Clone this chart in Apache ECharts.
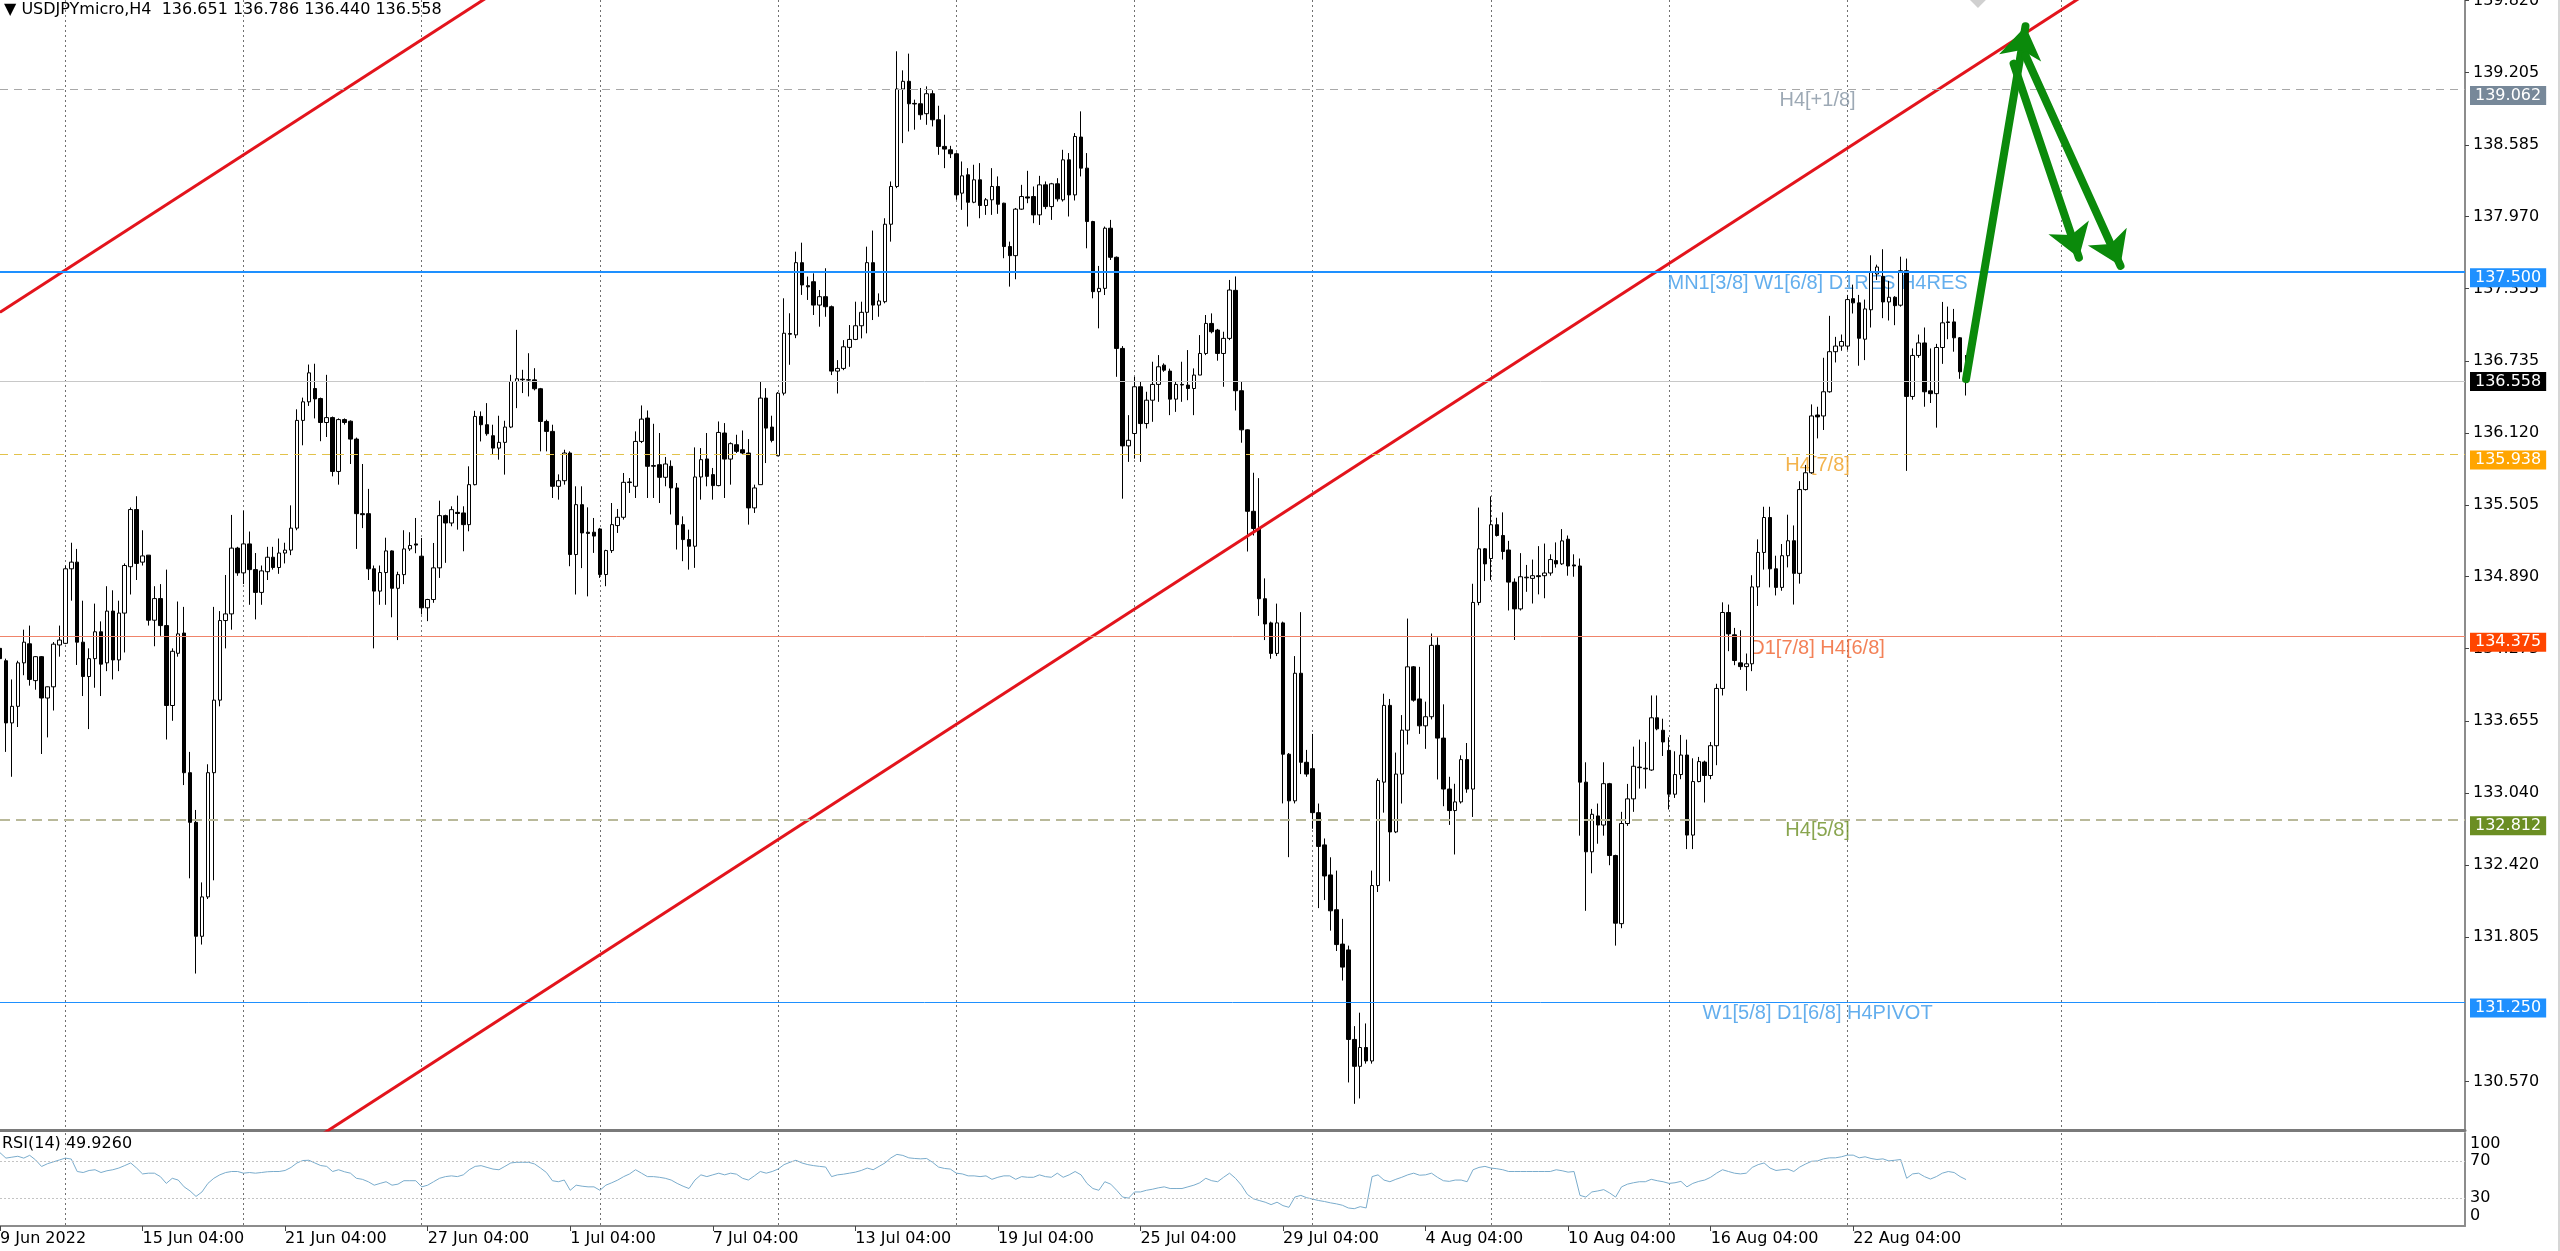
<!DOCTYPE html>
<html>
<head>
<meta charset="utf-8">
<script src="https://cdn.jsdelivr.net/npm/echarts@6/dist/echarts.min.js"></script>
<style>
html,body{margin:0;padding:0;background:#fff;overflow:hidden;}
#chart{width:2558px;height:1251px;border-right:2px solid #d6d6d6;}
</style>
</head>
<body>
<div id="chart"></div>
<script>
// ---------- DATA ----------
const opens = [
134.276,134.170,133.638,133.780,134.152,134.315,134.000,134.205,133.851,133.947,
134.305,134.319,134.957,135.014,134.329,134.035,134.188,134.418,134.152,134.595,
134.177,134.578,134.975,135.464,135.014,135.074,134.517,134.702,134.471,133.787,
134.234,134.407,133.212,132.787,131.812,132.149,133.212,133.833,134.514,134.571,
135.134,134.922,135.170,134.950,134.755,134.932,135.056,134.968,135.092,135.117,
135.305,136.227,136.386,136.500,136.414,136.209,136.251,135.790,136.234,136.220,
136.067,135.429,135.429,134.957,134.766,134.925,135.110,134.790,134.907,135.127,
135.170,135.065,134.623,134.694,134.965,135.412,135.349,135.440,135.435,135.335,
135.677,136.261,136.190,136.096,135.990,136.039,136.170,136.560,136.580,136.575,
136.574,136.498,136.218,136.133,135.663,135.711,135.948,135.079,135.506,135.270,
135.270,135.298,134.908,135.113,135.327,135.398,135.700,135.663,136.047,136.247,
135.840,135.848,135.740,135.834,135.649,135.335,135.207,135.150,135.743,135.897,
135.763,135.669,136.119,135.896,136.019,135.976,135.948,135.478,135.677,136.418,
136.170,135.925,136.460,136.970,136.959,137.577,137.380,137.414,137.214,137.286,
137.200,136.649,136.672,136.852,136.920,137.037,137.152,137.577,137.214,137.243,
137.906,138.229,139.063,139.129,138.940,138.937,138.852,139.023,138.800,138.572,
138.543,138.509,138.172,138.329,138.094,138.286,138.066,138.115,138.229,138.086,
137.715,137.637,138.035,138.140,138.143,137.986,138.243,138.057,138.252,138.115,
138.457,138.157,138.652,138.386,137.929,137.329,137.357,137.872,137.623,136.843,
136.009,136.115,136.515,136.200,136.400,136.535,136.700,136.649,136.409,136.535,
136.529,136.500,136.615,136.800,137.057,137.000,136.800,136.929,137.340,136.481,
136.146,135.449,135.302,134.701,134.494,134.233,134.494,133.370,132.971,134.063,
133.301,133.246,132.870,132.594,132.337,132.039,131.745,131.695,130.929,130.699,
130.860,130.745,132.246,133.131,133.788,132.705,133.200,133.576,134.118,133.843,
133.613,133.691,134.302,133.508,133.072,132.888,132.962,133.324,133.072,134.669,
135.128,135.045,135.334,135.242,135.118,134.843,134.614,134.880,134.875,134.898,
134.898,134.921,135.027,134.999,135.210,134.990,134.981,133.131,132.535,132.842,
132.764,133.118,132.503,131.920,132.777,132.988,133.260,133.250,133.235,133.682,
133.575,133.403,133.028,133.196,133.363,132.678,133.136,133.303,133.188,133.443,
133.933,134.583,134.392,134.152,134.120,134.144,134.802,135.097,135.396,134.957,
134.798,135.069,135.197,134.918,135.635,135.779,136.273,136.265,136.472,136.815,
136.863,136.863,137.269,137.233,136.922,137.174,137.480,137.460,137.241,137.281,
137.213,137.508,136.432,136.783,136.890,136.480,136.456,136.851,137.070,137.070,
136.934,136.651];
const highs = [
134.312,134.188,134.010,134.170,134.436,134.471,134.210,134.210,133.950,134.330,
134.471,134.985,135.180,135.127,134.684,134.276,134.659,134.507,134.808,134.773,
134.684,135.003,135.482,135.578,135.287,135.074,134.808,134.826,134.950,134.276,
134.677,134.631,133.390,132.893,132.273,133.284,134.631,134.595,134.904,135.418,
135.145,135.454,135.276,135.092,134.985,135.145,135.145,135.216,135.180,135.500,
136.322,136.422,136.705,136.712,136.422,136.617,136.260,136.244,136.244,136.227,
136.080,135.854,135.641,134.985,134.985,135.223,135.115,134.932,135.287,135.270,
135.392,135.221,134.700,135.178,135.540,135.420,135.492,135.583,135.492,135.834,
136.309,136.304,136.375,136.190,136.267,136.224,136.617,137.002,136.660,136.802,
136.674,136.505,136.233,136.190,135.765,135.976,135.962,135.663,135.663,135.483,
135.392,135.307,135.120,135.520,135.469,135.777,135.734,136.133,136.355,136.312,
136.198,136.119,135.914,135.885,135.691,135.406,135.292,135.996,135.990,136.119,
135.820,136.218,136.204,136.039,136.104,136.141,136.067,135.677,136.560,136.503,
136.267,136.470,137.272,137.144,137.671,137.748,137.458,137.486,137.343,137.529,
137.210,136.743,136.914,137.043,137.243,137.243,137.714,137.852,137.314,137.957,
138.272,139.386,139.223,139.366,138.972,139.072,139.086,139.052,138.920,138.843,
138.577,138.520,138.443,138.386,138.415,138.429,138.130,138.386,138.315,138.090,
137.757,138.045,138.243,138.363,138.229,138.320,138.272,138.260,138.300,138.543,
138.515,138.686,138.872,138.515,137.935,137.549,137.886,137.943,137.630,136.863,
136.272,136.600,136.558,136.472,136.729,136.786,136.715,136.670,136.558,136.729,
136.829,136.672,136.957,137.129,137.143,137.010,136.986,137.429,137.459,136.564,
136.150,135.779,135.733,134.875,134.505,134.659,134.505,133.380,134.210,134.586,
133.407,133.544,132.948,132.649,132.488,132.374,131.961,131.732,131.043,131.158,
131.066,132.374,133.163,133.888,133.843,133.384,133.705,134.531,134.125,134.118,
133.820,134.403,134.370,133.797,133.177,133.117,133.361,133.466,134.829,135.481,
135.135,135.577,135.394,135.440,135.196,134.875,135.091,134.990,135.036,135.151,
135.173,135.081,135.183,135.297,135.242,135.081,135.045,133.301,132.902,132.948,
133.301,133.125,132.510,132.877,133.116,133.435,133.495,133.475,133.873,133.873,
133.674,133.515,133.395,133.535,133.495,133.335,133.347,133.315,133.475,133.973,
134.670,134.651,134.451,134.431,134.232,134.902,135.209,135.488,135.488,135.069,
135.169,135.420,135.328,135.707,135.846,136.364,136.344,136.763,137.122,136.942,
136.962,137.301,137.389,137.301,137.261,137.640,137.560,137.692,137.421,137.290,
137.628,137.612,136.843,136.962,137.022,136.843,136.882,137.241,137.201,137.181,
136.940,136.786];
const lows = [
134.081,133.390,133.177,133.603,134.046,133.957,133.922,133.372,133.514,133.744,
134.205,134.312,134.684,134.134,133.868,133.585,133.939,133.868,134.081,134.010,
134.081,134.241,134.737,134.861,134.985,134.471,134.294,134.383,133.496,133.656,
134.205,133.106,132.308,131.493,131.741,132.131,132.291,133.780,134.276,134.436,
134.897,134.826,134.649,134.524,134.649,134.861,134.950,134.914,135.003,135.074,
135.287,136.014,136.351,136.244,136.049,136.085,135.748,135.677,136.191,135.854,
135.127,135.305,134.861,134.276,134.649,134.649,134.542,134.347,134.826,135.110,
135.090,134.566,134.509,134.666,134.879,135.008,135.321,135.292,135.107,135.278,
135.671,136.047,136.096,135.933,135.891,135.763,136.161,136.332,136.461,136.432,
136.484,135.962,135.962,135.563,135.549,135.677,134.979,134.737,134.963,134.721,
135.093,134.879,134.808,135.093,135.264,135.378,135.606,135.563,136.033,135.563,
135.563,135.520,135.663,135.422,135.122,135.022,134.950,134.965,135.549,135.663,
135.549,135.663,135.563,135.677,135.948,135.933,135.335,135.435,135.677,135.862,
136.039,135.920,136.441,136.703,136.931,137.301,137.258,137.129,137.029,137.114,
136.615,136.457,136.657,136.686,136.914,136.929,136.972,137.086,137.114,137.229,
137.757,138.215,138.600,138.700,138.715,138.800,138.757,138.743,138.500,138.386,
138.472,138.115,138.029,137.886,138.086,137.957,137.986,137.986,137.995,137.615,
137.372,137.435,138.029,138.086,137.915,137.900,138.035,137.943,138.100,138.100,
137.972,138.109,138.315,137.700,137.272,137.015,137.300,137.600,136.600,135.557,
135.872,135.900,135.872,136.158,136.215,136.386,136.643,136.272,136.300,136.386,
136.400,136.272,136.615,136.786,136.972,136.738,136.515,136.914,136.312,136.036,
135.105,135.242,134.554,134.347,134.187,134.210,132.949,132.489,132.949,133.200,
133.177,132.732,132.053,132.122,131.860,131.686,131.433,130.561,130.378,130.424,
130.722,130.722,132.191,132.870,132.282,132.695,132.948,133.453,133.820,133.544,
133.416,133.668,133.154,132.925,132.765,132.512,132.948,133.040,132.833,134.645,
134.852,134.861,135.233,135.036,134.600,134.348,134.600,134.760,134.660,134.738,
134.705,134.898,134.967,134.990,134.898,134.889,132.673,132.030,132.351,132.604,
132.673,132.420,131.732,131.881,132.757,132.877,133.076,133.076,133.228,133.575,
133.355,132.897,132.996,133.156,132.558,132.558,133.130,132.957,133.156,133.276,
133.873,134.252,134.132,134.092,133.913,134.081,134.639,134.950,134.798,134.729,
134.769,134.969,134.651,134.830,135.627,135.770,136.073,136.145,136.464,136.723,
136.823,136.831,137.142,136.695,136.743,137.022,137.429,137.102,137.082,137.042,
137.201,135.795,136.404,136.763,136.344,136.376,136.165,136.711,136.922,136.815,
136.583,136.440];
const closes = [
134.188,133.638,133.780,134.152,134.329,134.010,134.205,133.851,133.947,134.312,
134.347,134.957,135.014,134.329,134.035,134.188,134.418,134.141,134.595,134.177,
134.578,134.985,135.464,135.003,135.067,134.517,134.702,134.471,133.787,134.251,
134.400,133.212,132.787,131.812,132.149,133.212,133.833,134.514,134.571,135.134,
134.922,135.170,134.950,134.755,134.939,135.056,134.968,135.092,135.117,135.305,
136.227,136.386,136.634,136.411,136.209,136.251,135.790,136.234,136.209,136.067,
135.429,135.420,134.957,134.766,134.925,135.110,134.790,134.907,135.127,135.156,
135.160,134.623,134.694,134.965,135.412,135.349,135.463,135.430,135.335,135.677,
136.261,136.190,136.113,135.990,136.039,136.170,136.560,136.583,136.575,136.572,
136.498,136.218,136.133,135.663,135.711,135.948,135.079,135.506,135.264,135.260,
135.237,134.908,135.113,135.335,135.398,135.697,135.695,136.047,136.238,135.834,
135.835,135.740,135.854,135.649,135.335,135.207,135.150,135.743,135.891,135.748,
135.669,136.124,135.896,136.028,135.962,135.948,135.478,135.649,136.418,136.161,
136.056,136.460,136.973,136.965,137.577,137.386,137.370,137.214,137.286,137.200,
136.649,136.672,136.857,136.920,137.037,137.152,137.577,137.214,137.249,137.906,
138.229,139.063,139.129,138.937,138.935,138.843,139.023,138.800,138.572,138.549,
138.509,138.157,138.320,138.094,138.286,138.066,138.115,138.229,138.077,137.715,
137.637,138.035,138.143,138.130,137.986,138.243,138.057,138.252,138.123,138.457,
138.157,138.657,138.386,137.929,137.329,137.357,137.872,137.623,136.843,136.009,
136.057,136.515,136.200,136.400,136.535,136.686,136.657,136.409,136.535,136.530,
136.500,136.615,136.800,137.057,136.986,136.800,136.929,137.343,136.481,136.146,
135.449,135.302,134.701,134.485,134.233,134.494,133.370,132.971,134.063,133.301,
133.200,132.870,132.581,132.328,132.030,131.741,131.548,130.929,130.699,130.860,
130.745,132.246,133.145,133.788,132.705,133.200,133.576,134.118,133.833,133.613,
133.691,134.302,133.508,133.072,132.888,132.962,133.324,133.072,134.669,135.128,
134.999,135.334,135.242,135.105,134.843,134.614,134.889,134.885,134.898,134.890,
134.921,135.036,134.999,135.196,134.981,134.981,133.131,132.535,132.856,132.764,
133.118,132.503,131.924,132.777,132.988,133.267,133.255,133.245,133.682,133.587,
133.475,133.028,133.196,133.363,132.678,133.136,133.307,133.188,133.443,133.933,
134.583,134.400,134.172,134.120,134.144,134.802,135.097,135.396,134.957,134.798,
135.069,135.197,134.918,135.635,135.779,136.265,136.257,136.472,136.815,136.863,
136.902,137.261,137.233,136.930,137.181,137.500,137.540,137.241,137.281,137.209,
137.508,136.432,136.783,136.890,136.472,136.456,136.851,137.062,137.065,136.934,
136.643,136.558];
const rsiValues = [
78.8,73,74,75,73,76,71,64,67,69,
71,73,72,58.6,57.5,59.7,60.5,57.5,59.4,60.5,
62.3,65,67.8,62.3,56,56.8,56.8,53.1,45.8,51.3,
49.4,42.1,37.7,31.8,36.6,45.8,51.3,55,57.5,58.6,
58.6,56.8,57.5,56.8,57.5,58.3,58.6,58.6,59.7,63,
67.8,70.4,70.7,67.8,65,64.1,58.6,60.5,58.3,56.8,
51.3,50.2,47.6,43.9,45.8,47.6,43.9,45,48.7,48.7,
48.7,42.1,43.9,47.6,51.3,53.1,53.9,53.1,55,60.5,
64.1,64.9,63,61.2,60.5,64.1,67.8,68.5,68.5,68.5,
66.7,62.3,57.5,48.7,47.6,49.4,38.4,43.9,42.8,42.1,
42.1,38.4,43.9,46.5,49.4,53.1,56,60.5,56.8,53.1,
53.1,52.4,51.3,49.4,45.8,42.8,40.3,49.4,55,53.1,
55,56.8,55,56.8,55.7,51.3,49.4,53.9,58.6,56.8,
58.6,61.2,66,68.5,70.7,67.8,66,64.9,64.1,63.4,
53.1,55,55.7,56.8,57.9,59.7,62.3,60.5,64.1,67.8,
73.3,77,75.9,73.3,72.6,72.2,72.6,68.5,63.4,61.9,
61.2,56.8,56,53.9,53.9,53.1,53.9,50.2,52.4,53.9,
53.9,50.2,53.1,52.4,52.4,55,53.1,52.4,56.8,52.4,
55,58.6,55,45.8,40.3,38.4,47.6,45,38.4,31.1,
30,36.6,36.6,38.4,39.5,41,42.1,40.3,40.3,40.3,
42.1,43.9,46.5,51.3,48.7,47.6,52.4,56.8,51.3,43.9,
34,29.3,27.4,25.6,23,25.6,21.9,20.1,31.1,32.9,
30.4,28.9,27.4,26.3,24.9,23.8,22.3,19.4,18.6,20.8,
19.4,53.1,55,49.4,47.6,50.2,52.4,55,56.8,54.6,
55,56.8,52.4,48.7,48,49.4,49.4,47.6,60.5,63,
64.1,62.3,61.6,60.5,58.6,58.6,58.6,58.6,58.6,58.6,
58.6,58.6,60.5,59.4,57.9,58.6,32.9,31.1,36.6,37.7,
39.1,35.5,31.1,42.1,45,46.5,47.6,47.6,50.2,48.7,
47.6,45.8,46.5,48,42.1,45.8,48,49.4,52.4,56.8,
60.5,58.6,56.8,56,56.8,63,66,67.8,62.3,59.7,
60.5,61.2,58.6,63.4,66.7,69.6,70,72.2,73.3,73.3,
74.4,76.2,76.2,73.3,74.4,72.6,71.5,72.2,70,70.7,
71.5,51.3,56,56.8,53.1,50.5,53.1,56.8,58.6,57.5,
53.1,49.926];

const dateLabels = ['9 Jun 2022','15 Jun 04:00','21 Jun 04:00','27 Jun 04:00','1 Jul 04:00','7 Jul 04:00',
  '13 Jul 04:00','19 Jul 04:00','25 Jul 04:00','29 Jul 04:00','4 Aug 04:00','10 Aug 04:00','16 Aug 04:00','22 Aug 04:00'];
const dateLabelStep = 24;                // one date label every 24 H4 bars
const weekGridBars = [11,41,71,101,131,161,191,221,251,281,311,347];
const priceTicks = [139.820,139.205,138.585,137.970,137.355,136.735,136.120,135.505,134.890,134.275,133.655,133.040,132.420,131.805,130.570];
const rsiTicks = [0,30,70,100];
const rsiLevels = [70,30];
const totalSlots = 416;                  // bars + empty future space

const levelPrices = [139.062,137.500,136.558,135.938,134.375,132.812,131.250];
const levelNames  = ['H4[+1/8]','MN1[3/8] W1[6/8] D1RES H4RES','','H4[7/8]','D1[7/8] H4[6/8]','H4[5/8]','W1[5/8] D1[6/8] H4PIVOT'];
const levelLineColors = ['#a8a8a8','#1e90ff','#c8c8c8','#e2c24a','#f0846a','#b9b99a','#1e90ff'];
const levelLineTypes  = [[8,6],'solid','solid',[8,6],'solid',[10,6],'solid'];
const levelLineWidths = [1,2,1,1,1,2,1];
const levelBoxColors  = ['#778899','#1e90ff','#000000','#ffa500','#ff4500','#6b8e23','#1e90ff'];
const levelBoxShift   = [6,6,0,6,6,6,6];
const levelTextColors = ['#8593a3','#3c9ae8','#000','#f0a020','#f0622d','#6b8e23','#3c9ae8'];
const levelTextBar = 306;

const trendLine1 = [[0,137.152],[82,139.847]];
const trendLine2 = [[54,130.109],[351,139.871]];
const arrowUp    = [[331,136.58],[341,139.60]];
const arrowDownA = [[339,139.28],[350,137.62]];
const arrowDownB = [[341,139.35],[357,137.55]];
const markerDiamond = [333,139.86];

const headerText = '\u25BC USDJPYmicro,H4  136.651 136.786 136.440 136.558';
const rsiText = 'RSI(14) 49.9260';

// ---------- CHART ----------
const categories = Array.from({length: totalSlots}, (_, i) => String(i));
const candleData = opens.map((o, i) => [o, closes[i], lows[i], highs[i]]);
const FONT = 'DejaVu Sans';
const isDateIdx = (i) => i % dateLabelStep === 0 && i / dateLabelStep < dateLabels.length;
const isGridIdx = (i) => weekGridBars.indexOf(i) >= 0;

const levelMarks = levelPrices.map((p, k) => ({
  yAxis: p,
  lineStyle: {color: levelLineColors[k], type: levelLineTypes[k], width: levelLineWidths[k]},
  label: {show: true, position: 'end', distance: 5, formatter: p.toFixed(3),
    offset: [0, levelBoxShift[k]],
    backgroundColor: levelBoxColors[k], color: '#fff', padding: [2, 5, 1, 5],
    fontFamily: FONT, fontSize: 16}
}));
const levelTextData = levelPrices.map((p, k) => ({
  value: [levelTextBar, p], name: levelNames[k],
  label: {color: levelTextColors[k]}
})).filter(d => d.name);

const arrowMark = (seg) => [{coord: seg[0]}, {coord: seg[1]}];

const option = {
  animation: false,
  backgroundColor: '#ffffff',
  title: [
    {text: headerText, left: 4, top: 2, padding: 0,
     textStyle: {fontFamily: FONT, fontSize: 16, fontWeight: 'normal', color: '#000'}},
    {text: rsiText, left: 2, top: 1136, padding: 0,
     textStyle: {fontFamily: FONT, fontSize: 16, fontWeight: 'normal', color: '#000'}}
  ],
  grid: [
    {left: 0, right: 93, top: 0, height: 1130, outerBoundsMode: 'none', containLabel: false},
    {left: 0, right: 93, top: 1133, height: 93, outerBoundsMode: 'none', containLabel: false}
  ],
  xAxis: [
    {type: 'category', gridIndex: 0, data: categories, boundaryGap: false,
     axisLine: {show: true, onZero: false, lineStyle: {color: '#7a7a7a', width: 3}},
     axisTick: {show: false}, axisLabel: {show: false},
     splitLine: {show: true, interval: (i) => isGridIdx(i), lineStyle: {color: '#707070', type: [2, 3], width: 1}}},
    {type: 'category', gridIndex: 1, data: categories, boundaryGap: false,
     axisLine: {show: true, onZero: false, lineStyle: {color: '#8c8c8c', width: 2}},
     axisTick: {show: true, interval: (i) => isDateIdx(i), length: 5, lineStyle: {color: '#444'}},
     axisLabel: {show: true, interval: (i) => isDateIdx(i), formatter: (v, i) => dateLabels[Math.round(i / dateLabelStep)],
       align: 'left', margin: 5, color: '#000', fontFamily: FONT, fontSize: 16},
     splitLine: {show: true, interval: (i) => isGridIdx(i), lineStyle: {color: '#707070', type: [2, 3], width: 1}}}
  ],
  yAxis: [
    {type: 'value', gridIndex: 0, position: 'right', min: 130.154, max: 139.825,
     axisLine: {show: true, lineStyle: {color: '#8c8c8c', width: 2}},
     axisTick: {show: true, customValues: priceTicks, length: 4, lineStyle: {color: '#444'}},
     axisLabel: {customValues: priceTicks, formatter: (v) => v.toFixed(3), margin: 8,
       color: '#000', fontFamily: FONT, fontSize: 16},
     splitLine: {show: false}},
    {type: 'value', gridIndex: 1, position: 'right', min: 0, max: 100,
     axisLine: {show: true, lineStyle: {color: '#8c8c8c', width: 2}},
     axisTick: {show: false},
     axisLabel: {customValues: rsiTicks, margin: 5, color: '#000', fontFamily: FONT, fontSize: 16,
       formatter: (v) => v === 100 ? '{t|100}' : (v === 0 ? '{b|0}' : String(v)),
       rich: {t: {padding: [22, 0, 0, 0], fontFamily: FONT, fontSize: 16, color: '#000'},
              b: {padding: [0, 0, 20, 0], fontFamily: FONT, fontSize: 16, color: '#000'}}},
     splitLine: {show: false}}
  ],
  series: [
    {type: 'scatter', xAxisIndex: 0, yAxisIndex: 0, z: 1, symbolSize: 1, silent: true,
     itemStyle: {color: 'rgba(0,0,0,0)'},
     label: {show: true, position: 'bottom', distance: 1, formatter: (p) => p.name,
       fontFamily: 'Liberation Sans', fontSize: 20},
     data: levelTextData},
    {type: 'candlestick', xAxisIndex: 0, yAxisIndex: 0, z: 2, barWidth: 4,
     itemStyle: {color: '#ffffff', color0: '#000000', borderColor: '#000000', borderColor0: '#000000', borderWidth: 1},
     data: candleData,
     markLine: {symbol: 'none', silent: true, animation: false, data: levelMarks}},
    {type: 'line', xAxisIndex: 0, yAxisIndex: 0, z: 3, data: trendLine1, symbol: 'none', clip: true,
     lineStyle: {color: '#e3141c', width: 3}},
    {type: 'line', xAxisIndex: 0, yAxisIndex: 0, z: 3, data: trendLine2, symbol: 'none', clip: true,
     lineStyle: {color: '#e3141c', width: 3},
     markLine: {symbol: ['none', 'arrow'], symbolSize: 32, silent: true, animation: false,
       label: {show: false},
       lineStyle: {color: '#0b8a0b', width: 8, type: 'solid', cap: 'round'},
       data: [arrowMark(arrowUp), arrowMark(arrowDownA), arrowMark(arrowDownB)]}},
    {type: 'scatter', xAxisIndex: 0, yAxisIndex: 0, z: 3, clip: false, symbol: 'diamond',
     symbolSize: [24, 24], itemStyle: {color: '#c4c4c4'}, data: [markerDiamond]},
    {type: 'line', xAxisIndex: 1, yAxisIndex: 1, data: rsiValues, symbol: 'none',
     lineStyle: {color: '#7aaccc', width: 1},
     markLine: {symbol: 'none', silent: true, animation: false, label: {show: false},
       lineStyle: {color: '#c4c4c4', type: [2, 2], width: 1},
       data: rsiLevels.map(v => ({yAxis: v}))}}
  ]
};
const chart = echarts.init(document.getElementById('chart'), null, {renderer: 'canvas'});
chart.setOption(option);
</script>
</body>
</html>
